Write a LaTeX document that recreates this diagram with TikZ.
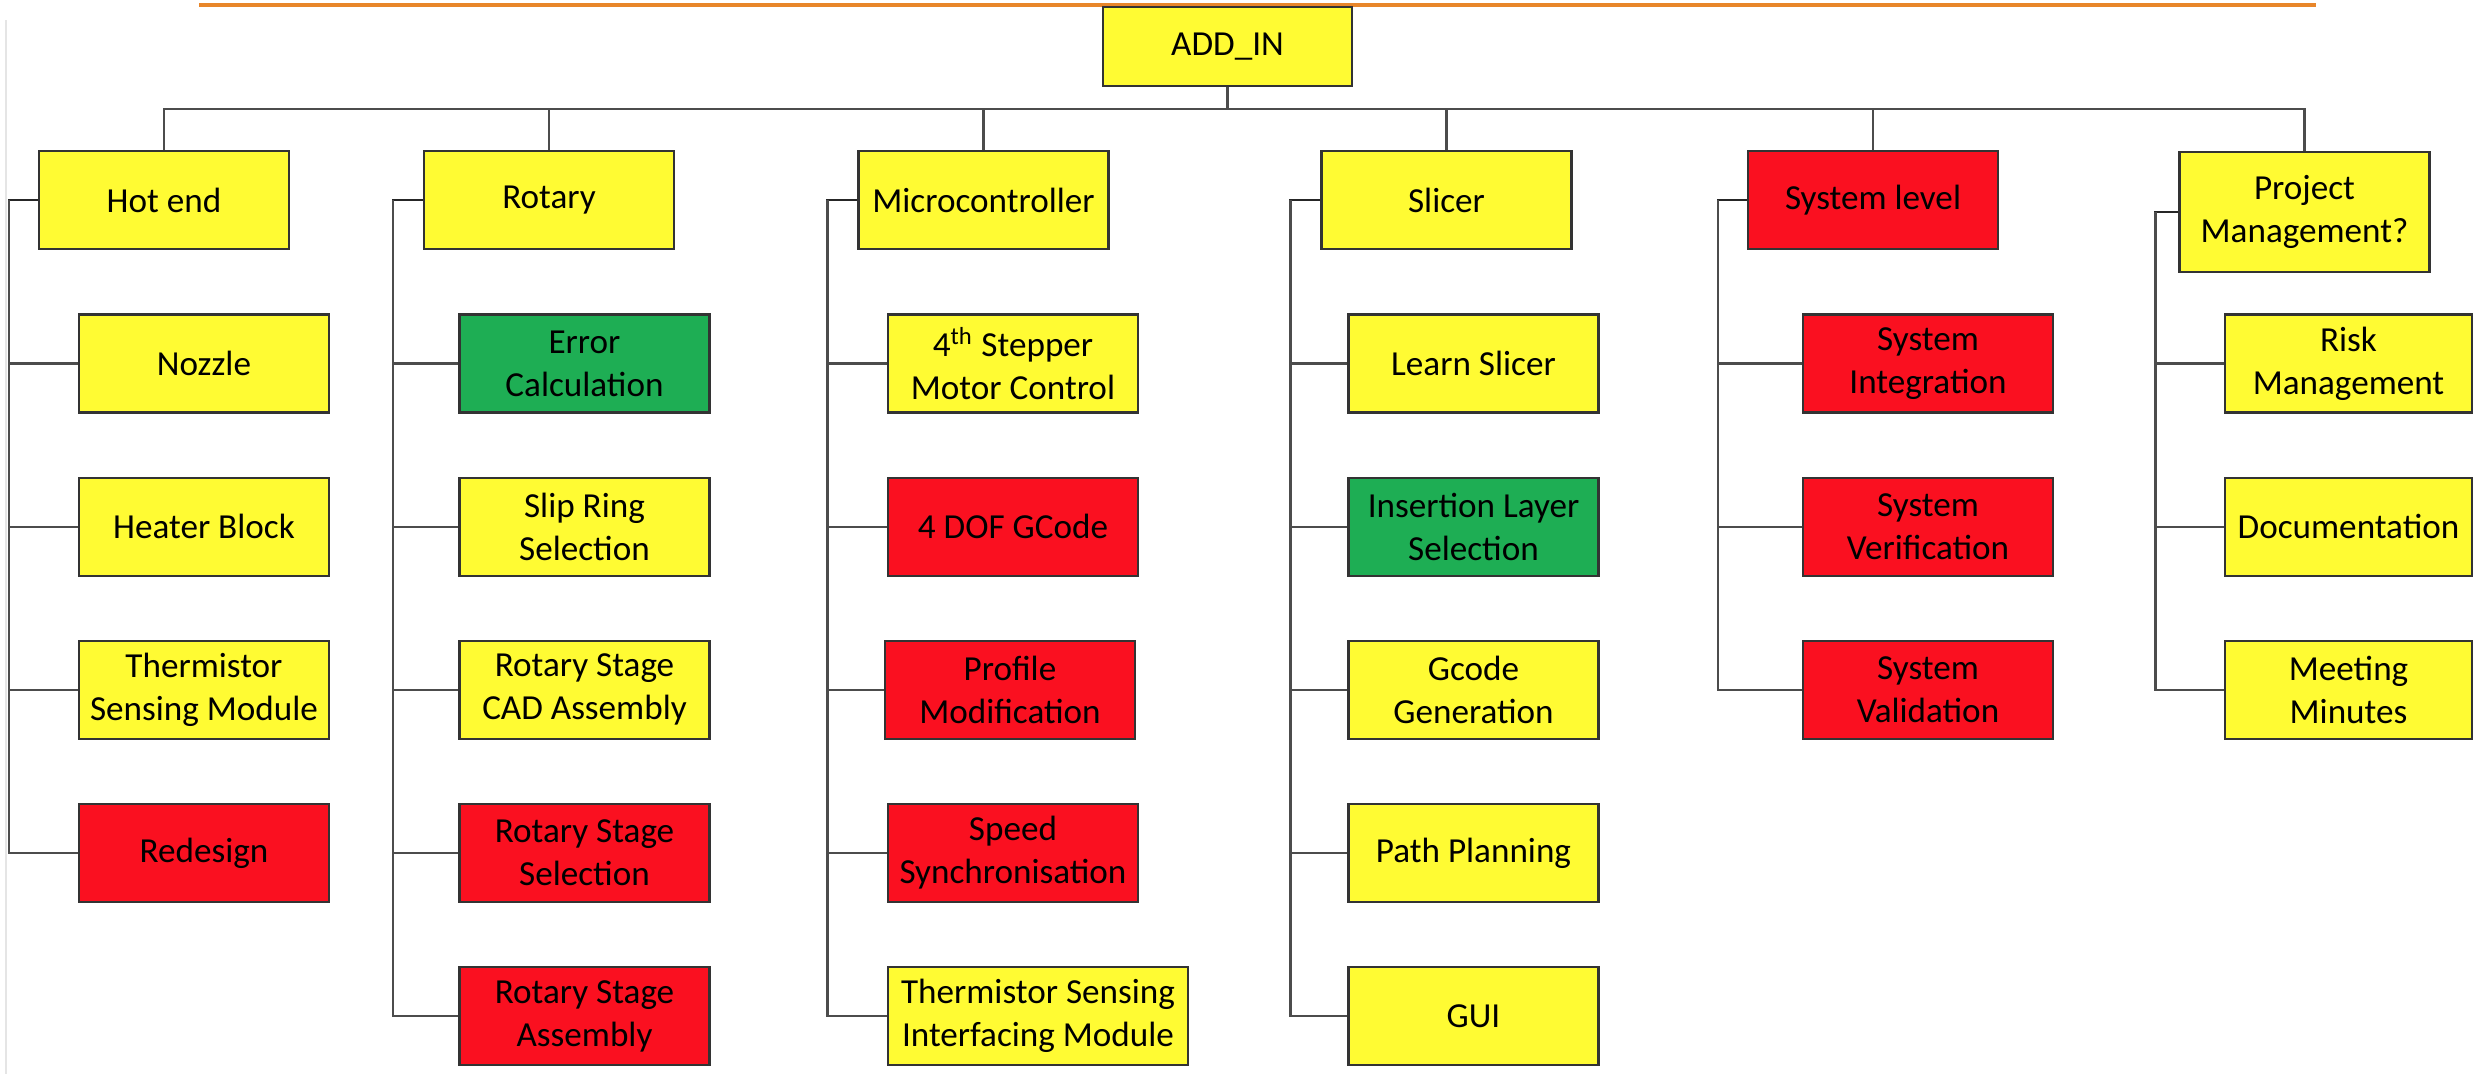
\documentclass[tikz,border=0pt]{standalone}
\usepackage{fontspec}
\setmainfont{Carlito}
\definecolor{boxyellow}{RGB}{255,251,51}
\definecolor{boxred}{RGB}{250,16,32}
\definecolor{boxgreen}{RGB}{30,174,84}
\definecolor{lineorange}{RGB}{232,134,42}
\begin{document}
\begin{tikzpicture}
		\tikzstyle{every node}+=[inner sep=0pt, font=\fontsize{10}{12.2}\selectfont]
		\tikzstyle{box}=[draw=black!80, line width=0.6pt, minimum width=2.5cm, minimum height=0.98cm, align=center]
		\tikzstyle{ylw}=[box, fill=boxyellow]
		\tikzstyle{rd}=[box, fill=boxred]
		\tikzstyle{grn}=[box, fill=boxgreen]
		\tikzstyle{link}=[draw=black!70, line width=0.6pt]
		\tikzstyle{trunk}=[draw=black!85, line width=0.8pt]
		\useasboundingbox (0,0) rectangle (24.73,-10.74);
		\draw [black!10, line width=0.4pt] (0.06,-0.2) -- (0.06,-10.74);
		\draw [lineorange, line width=1pt] (1.99,-0.05) -- (23.16,-0.05);
		% top
		\node [ylw, minimum width=2.49cm, minimum height=0.79cm] (addin) at (12.275,-0.465) {ADD\_IN};
		% parents
		\node [ylw] (hotend) at (1.64,-2.0) {Hot end};
		\node [ylw] (rotary) at (5.49,-2.0) {Rotary};
		\node [ylw] (micro) at (9.835,-2.0) {Microcontroller};
		\node [ylw] (slicer) at (14.465,-2.0) {Slicer};
		\node [rd] (syslevel) at (18.73,-2.0) {System level};
		\node [ylw, minimum height=1.2cm] (projmgmt) at (23.045,-2.12) {Project\\Management?};
		% hot end
		\node [ylw] (nozzle) at (2.04,-3.635) {Nozzle};
		\node [ylw] (heater) at (2.04,-5.266) {Heater Block};
		\node [ylw] (thermsense) at (2.04,-6.897) {Thermistor\\Sensing Module};
		\node [rd] (redesign) at (2.04,-8.529) {Redesign};
		% rotary
		\node [grn] (errcalc) at (5.845,-3.635) {Error\\Calculation};
		\node [ylw] (slipring) at (5.845,-5.266) {Slip Ring\\Selection};
		\node [ylw] (stagecad) at (5.845,-6.897) {Rotary Stage\\CAD Assembly};
		\node [rd] (stagesel) at (5.845,-8.529) {Rotary Stage\\Selection};
		\node [rd] (stageasm) at (5.845,-10.16) {Rotary Stage\\Assembly};
		% microcontroller
		\node [ylw] (stepper) at (10.13,-3.635) {4\textsuperscript{th} Stepper\\Motor Control};
		\node [rd] (dofgcode) at (10.13,-5.266) {4 DOF GCode};
		\node [rd] (profile) at (10.10,-6.897) {Profile\\Modification};
		\node [rd] (speedsync) at (10.13,-8.529) {Speed\\Synchronisation};
		\node [ylw, minimum width=3.0cm] (thermiface) at (10.38,-10.16) {Thermistor Sensing\\Interfacing Module};
		% slicer
		\node [ylw] (learnslicer) at (14.735,-3.635) {Learn Slicer};
		\node [grn] (insertlayer) at (14.735,-5.266) {Insertion Layer\\Selection};
		\node [ylw] (gcodegen) at (14.735,-6.897) {Gcode\\Generation};
		\node [ylw] (pathplan) at (14.735,-8.529) {Path Planning};
		\node [ylw] (gui) at (14.735,-10.16) {GUI};
		% system level
		\node [rd] (sysinteg) at (19.28,-3.635) {System\\Integration};
		\node [rd] (sysverif) at (19.28,-5.266) {System\\Verification};
		\node [rd] (sysvalid) at (19.28,-6.897) {System\\Validation};
		% project management
		\node [ylw, minimum width=2.47cm] (riskmgmt) at (23.485,-3.635) {Risk\\Management};
		\node [ylw, minimum width=2.47cm] (docs) at (23.485,-5.266) {Documentation};
		\node [ylw, minimum width=2.47cm] (minutes) at (23.485,-6.897) {Meeting\\Minutes};
		% bus
		\coordinate (bus) at (0,-1.09);
		\draw [link] (hotend.north) |- (bus -| projmgmt.north) -- (projmgmt.north);
		\draw [link] (addin.south) -- (addin.south |- bus);
		\draw [link] (rotary.north) -- (rotary.north |- bus);
		\draw [link] (micro.north) -- (micro.north |- bus);
		\draw [link] (slicer.north) -- (slicer.north |- bus);
		\draw [link] (syslevel.north) -- (syslevel.north |- bus);
		% branches
		\draw [trunk] (hotend.west) -- ++(-0.29,0) coordinate (het) -- (het |- redesign.west);
		\draw [link] (het) |- (nozzle.west);
		\draw [link] (het) |- (heater.west);
		\draw [link] (het) |- (thermsense.west);
		\draw [link] (het) |- (redesign.west);
		\draw [trunk] (rotary.west) -- ++(-0.30,0) coordinate (rot) -- (rot |- stageasm.west);
		\draw [link] (rot) |- (errcalc.west);
		\draw [link] (rot) |- (slipring.west);
		\draw [link] (rot) |- (stagecad.west);
		\draw [link] (rot) |- (stagesel.west);
		\draw [link] (rot) |- (stageasm.west);
		\draw [trunk] (micro.west) -- ++(-0.30,0) coordinate (mct) -- (mct |- thermiface.west);
		\draw [link] (mct) |- (stepper.west);
		\draw [link] (mct) |- (dofgcode.west);
		\draw [link] (mct) |- (profile.west);
		\draw [link] (mct) |- (speedsync.west);
		\draw [link] (mct) |- (thermiface.west);
		\draw [trunk] (slicer.west) -- ++(-0.30,0) coordinate (slt) -- (slt |- gui.west);
		\draw [link] (slt) |- (learnslicer.west);
		\draw [link] (slt) |- (insertlayer.west);
		\draw [link] (slt) |- (gcodegen.west);
		\draw [link] (slt) |- (pathplan.west);
		\draw [link] (slt) |- (gui.west);
		\draw [trunk] (syslevel.west) -- ++(-0.29,0) coordinate (syt) -- (syt |- sysvalid.west);
		\draw [link] (syt) |- (sysinteg.west);
		\draw [link] (syt) |- (sysverif.west);
		\draw [link] (syt) |- (sysvalid.west);
		\draw [trunk] (projmgmt.west) -- ++(-0.23,0) coordinate (pmt) -- (pmt |- minutes.west);
		\draw [link] (pmt) |- (riskmgmt.west);
		\draw [link] (pmt) |- (docs.west);
		\draw [link] (pmt) |- (minutes.west);
	\end{tikzpicture}
\end{document}
